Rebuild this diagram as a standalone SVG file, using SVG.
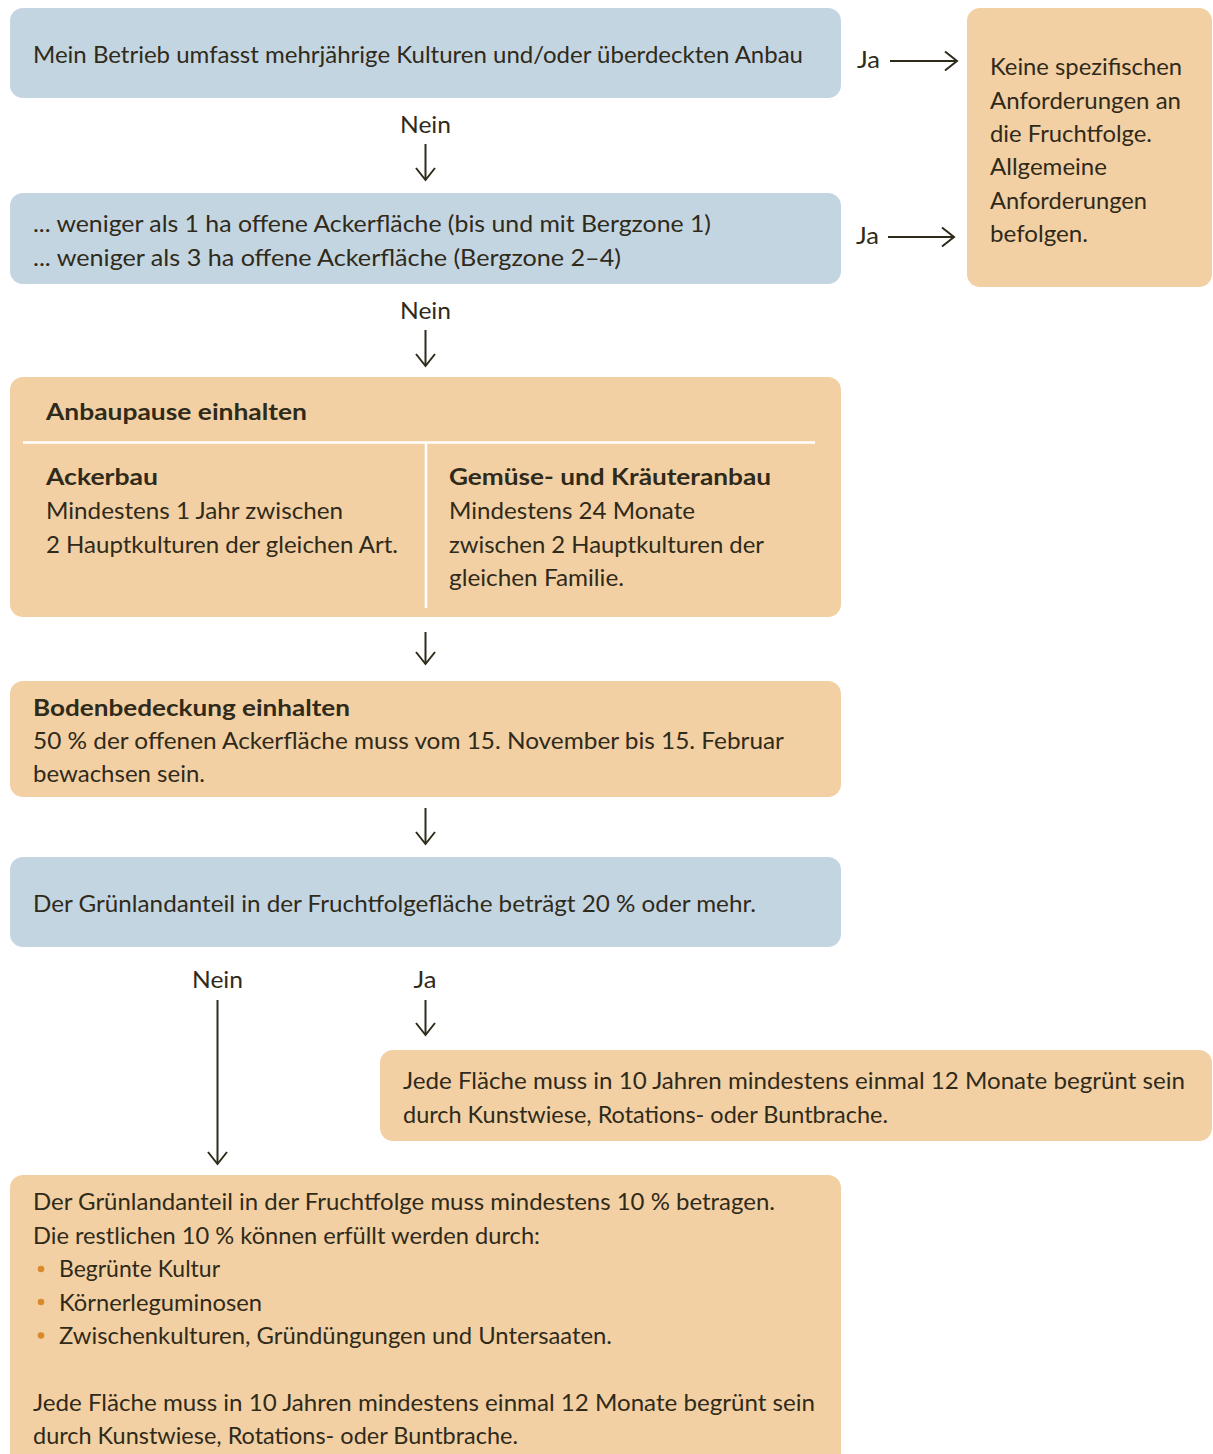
<svg xmlns="http://www.w3.org/2000/svg" width="1213" height="1454" viewBox="0 0 1213 1454">
<style>
.blue{fill:#c3d5e1}
.orange{fill:#f2d0a4}
text{font-family:Lato,"Noto Sans","Liberation Sans",sans-serif;font-size:22.5px;fill:#2f2a1a}
.b{font-weight:700}
.sep{stroke:#ffffff;stroke-width:2.5;fill:none}
.arr{stroke:#2f2a1a;stroke-width:2;fill:none}
.bul{fill:#d98a2c}
</style>
<defs>
<marker id="ah" markerUnits="userSpaceOnUse" markerWidth="30" markerHeight="30" viewBox="-15 -15 30 30" refX="0" refY="0" orient="auto">
<path d="M-12,-9.5 L0,0 L-12,9.5" stroke="#2f2a1a" stroke-width="2" fill="none"/>
</marker>
</defs>

<g id="n1">
<rect class="blue" x="10" y="8" width="831" height="90" rx="13"/>
<text x="33" y="63" textLength="770" lengthAdjust="spacingAndGlyphs">Mein Betrieb umfasst mehrjährige Kulturen und/oder überdeckten Anbau</text>
</g>

<g id="n2">
<rect class="orange" x="967" y="8" width="245" height="279" rx="13"/>
<text x="990" y="75" textLength="192" lengthAdjust="spacingAndGlyphs">Keine spezifischen</text>
<text x="990" y="108.5" textLength="191" lengthAdjust="spacingAndGlyphs">Anforderungen an</text>
<text x="990" y="142" textLength="162" lengthAdjust="spacingAndGlyphs">die Fruchtfolge.</text>
<text x="990" y="175" textLength="117" lengthAdjust="spacingAndGlyphs">Allgemeine</text>
<text x="990" y="208.5" textLength="157" lengthAdjust="spacingAndGlyphs">Anforderungen</text>
<text x="990" y="242" textLength="98" lengthAdjust="spacingAndGlyphs">befolgen.</text>
</g>

<g id="n3">
<rect class="blue" x="10" y="193" width="831" height="91" rx="13"/>
<text x="33" y="232" textLength="678" lengthAdjust="spacingAndGlyphs">... weniger als 1 ha offene Ackerfläche (bis und mit Bergzone 1)</text>
<text x="33" y="266" textLength="588" lengthAdjust="spacingAndGlyphs">... weniger als 3 ha offene Ackerfläche (Bergzone 2–4)</text>
</g>

<g id="n4">
<rect class="orange" x="10" y="377" width="831" height="240" rx="13"/>
<text class="b" x="46" y="420" textLength="261" lengthAdjust="spacingAndGlyphs">Anbaupause einhalten</text>
<path class="sep" d="M23,442.5 H815 M426,442.5 V608"/>
<text class="b" x="46" y="485" textLength="112" lengthAdjust="spacingAndGlyphs">Ackerbau</text>
<text x="46" y="519" textLength="297" lengthAdjust="spacingAndGlyphs">Mindestens 1 Jahr zwischen</text>
<text x="46" y="553" textLength="352" lengthAdjust="spacingAndGlyphs">2 Hauptkulturen der gleichen Art.</text>
<text class="b" x="449" y="485" textLength="322" lengthAdjust="spacingAndGlyphs">Gemüse- und Kräuteranbau</text>
<text x="449" y="519" textLength="246" lengthAdjust="spacingAndGlyphs">Mindestens 24 Monate</text>
<text x="449" y="553" textLength="315" lengthAdjust="spacingAndGlyphs">zwischen 2 Hauptkulturen der</text>
<text x="449" y="586" textLength="175" lengthAdjust="spacingAndGlyphs">gleichen Familie.</text>
</g>

<g id="n5">
<rect class="orange" x="10" y="681" width="831" height="116" rx="13"/>
<text class="b" x="33" y="716" textLength="317" lengthAdjust="spacingAndGlyphs">Bodenbedeckung einhalten</text>
<text x="33" y="749" textLength="751" lengthAdjust="spacingAndGlyphs">50 % der offenen Ackerfläche muss vom 15. November bis 15. Februar</text>
<text x="33" y="782" textLength="172" lengthAdjust="spacingAndGlyphs">bewachsen sein.</text>
</g>

<g id="n6">
<rect class="blue" x="10" y="857" width="831" height="90" rx="13"/>
<text x="33" y="912" textLength="723" lengthAdjust="spacingAndGlyphs">Der Grünlandanteil in der Fruchtfolgefläche beträgt 20 % oder mehr.</text>
</g>

<g id="n7">
<rect class="orange" x="380" y="1050" width="832" height="91" rx="13"/>
<text x="403" y="1089" textLength="782" lengthAdjust="spacingAndGlyphs">Jede Fläche muss in 10 Jahren mindestens einmal 12 Monate begrünt sein</text>
<text x="403" y="1123" textLength="485" lengthAdjust="spacingAndGlyphs">durch Kunstwiese, Rotations- oder Buntbrache.</text>
</g>

<g id="n8">
<rect class="orange" x="10" y="1175" width="831" height="300" rx="13"/>
<text x="33" y="1210" textLength="742" lengthAdjust="spacingAndGlyphs">Der Grünlandanteil in der Fruchtfolge muss mindestens 10 % betragen.</text>
<text x="33" y="1243.5" textLength="507" lengthAdjust="spacingAndGlyphs">Die restlichen 10 % können erfüllt werden durch:</text>
<circle class="bul" cx="41" cy="1269" r="3.3"/>
<text x="59" y="1277" textLength="161" lengthAdjust="spacingAndGlyphs">Begrünte Kultur</text>
<circle class="bul" cx="41" cy="1302" r="3.3"/>
<text x="59" y="1310.5" textLength="203" lengthAdjust="spacingAndGlyphs">Körnerleguminosen</text>
<circle class="bul" cx="41" cy="1335.5" r="3.3"/>
<text x="59" y="1344" textLength="553" lengthAdjust="spacingAndGlyphs">Zwischenkulturen, Gründüngungen und Untersaaten.</text>
<text x="33" y="1411" textLength="782" lengthAdjust="spacingAndGlyphs">Jede Fläche muss in 10 Jahren mindestens einmal 12 Monate begrünt sein</text>
<text x="33" y="1444" textLength="485" lengthAdjust="spacingAndGlyphs">durch Kunstwiese, Rotations- oder Buntbrache.</text>
</g>

<g id="connectors">
<text x="857" y="68" textLength="23" lengthAdjust="spacingAndGlyphs">Ja</text>
<line class="arr" x1="890" y1="61" x2="957" y2="61" marker-end="url(#ah)"/>
<text x="856" y="244" textLength="23" lengthAdjust="spacingAndGlyphs">Ja</text>
<line class="arr" x1="888" y1="237" x2="954" y2="237" marker-end="url(#ah)"/>
<text x="425.5" y="133" text-anchor="middle" textLength="51" lengthAdjust="spacingAndGlyphs">Nein</text>
<line class="arr" x1="425.5" y1="144" x2="425.5" y2="180" marker-end="url(#ah)"/>
<text x="425.5" y="319" text-anchor="middle" textLength="51" lengthAdjust="spacingAndGlyphs">Nein</text>
<line class="arr" x1="425.5" y1="330" x2="425.5" y2="366" marker-end="url(#ah)"/>
<line class="arr" x1="425.5" y1="632" x2="425.5" y2="664" marker-end="url(#ah)"/>
<line class="arr" x1="425.5" y1="808" x2="425.5" y2="844" marker-end="url(#ah)"/>
<text x="217.5" y="988" text-anchor="middle" textLength="51" lengthAdjust="spacingAndGlyphs">Nein</text>
<line class="arr" x1="217.5" y1="1000" x2="217.5" y2="1164" marker-end="url(#ah)"/>
<text x="425" y="988" text-anchor="middle" textLength="23" lengthAdjust="spacingAndGlyphs">Ja</text>
<line class="arr" x1="425.5" y1="1000" x2="425.5" y2="1035" marker-end="url(#ah)"/>
</g>
</svg>
